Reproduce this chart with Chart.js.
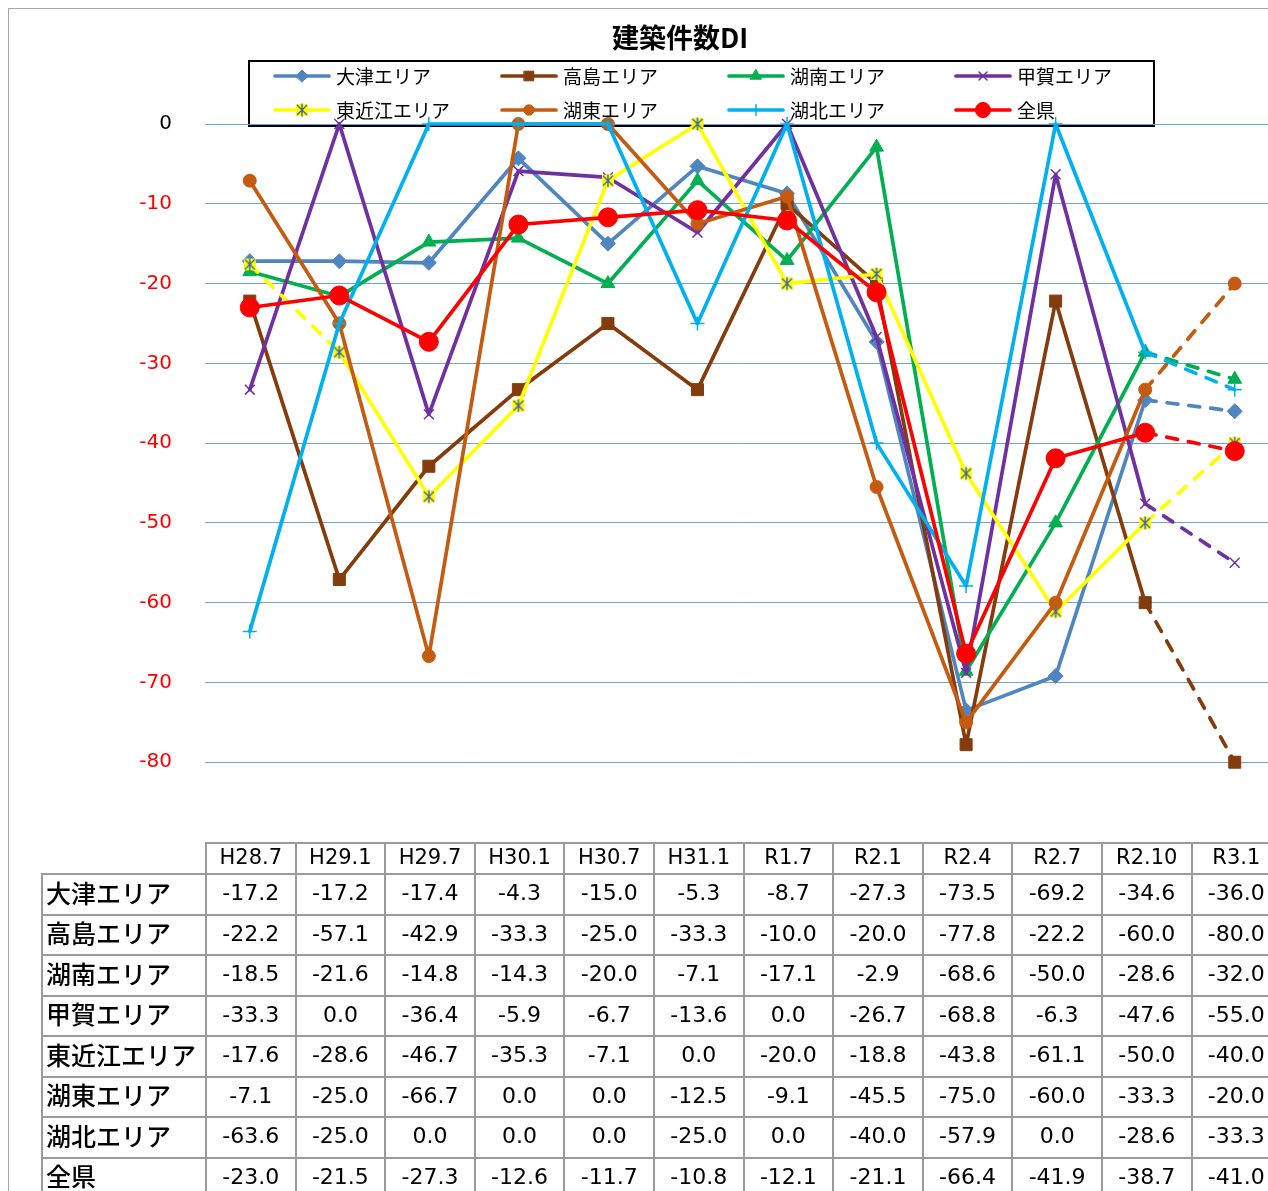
<!DOCTYPE html>
<html lang="ja">
<head>
<meta charset="UTF-8">
<title>建築件数DI</title>
<script src="https://cdn.jsdelivr.net/npm/chart.js@4.4.1/dist/chart.umd.min.js"></script>
<style>
  *{box-sizing:border-box}
  body{margin:0;width:1268px;height:1191px;overflow:hidden;background:#fff;position:relative;font-family:"DejaVu Sans","Noto Sans CJK JP",sans-serif}
  #frame{position:absolute;left:8px;top:8px;width:1320px;height:1300px;border:1px solid #a6a6a6}
  #chart{position:absolute;left:0;top:0}
  #dataTable{position:absolute;left:41px;top:842px;border-collapse:collapse;table-layout:fixed;width:1239.2px}
  #dataTable td{border:2px solid #9a9a9a;text-align:center;font-size:22px;padding:0 0 2px 0;line-height:1;white-space:nowrap;color:#000;overflow:hidden}
  #dataTable tr{height:40.5px}
  #dataTable tr.head{height:31px}
  #dataTable tr.head td{font-size:21px}
  #dataTable td.rowHead{text-align:left;padding:0 0 4px 3px;font-family:"Noto Sans CJK JP",sans-serif;font-size:25px;font-weight:500}
  #dataTable td.blank{border:none}
</style>
</head>
<body>
<div id="frame"></div>
<canvas id="chart" width="1290" height="887"></canvas>
<table id="dataTable"></table>

<script>
/****************  DATA  ****************/
const periods=['H28.7','H29.1','H29.7','H30.1','H30.7','H31.1','R1.7','R2.1','R2.4','R2.7','R2.10','R3.1'];
const otsu     =[-17.2,-17.2,-17.4, -4.3,-15.0, -5.3, -8.7,-27.3,-73.5,-69.2,-34.6,-36.0];
const takashima=[-22.2,-57.1,-42.9,-33.3,-25.0,-33.3,-10.0,-20.0,-77.8,-22.2,-60.0,-80.0];
const konan    =[-18.5,-21.6,-14.8,-14.3,-20.0, -7.1,-17.1, -2.9,-68.6,-50.0,-28.6,-32.0];
const koka     =[-33.3,  0.0,-36.4, -5.9, -6.7,-13.6,  0.0,-26.7,-68.8, -6.3,-47.6,-55.0];
const higashiOmi=[-17.6,-28.6,-46.7,-35.3, -7.1,  0.0,-20.0,-18.8,-43.8,-61.1,-50.0,-40.0];
const koto     =[ -7.1,-25.0,-66.7,  0.0,  0.0,-12.5, -9.1,-45.5,-75.0,-60.0,-33.3,-20.0];
const kohoku   =[-63.6,-25.0,  0.0,  0.0,  0.0,-25.0,  0.0,-40.0,-57.9,  0.0,-28.6,-33.3];
const zenken   =[-23.0,-21.5,-27.3,-12.6,-11.7,-10.8,-12.1,-21.1,-66.4,-41.9,-38.7,-41.0];

const seriesNames=['大津エリア','高島エリア','湖南エリア','甲賀エリア','東近江エリア','湖東エリア','湖北エリア','全県'];
const seriesData=[otsu,takashima,konan,koka,higashiOmi,koto,kohoku,zenken];
const yTicks=[0,-10,-20,-30,-40,-50,-60,-70,-80];

/****************  STYLES  ****************/
const colors=['#4f86c0','#843c0c','#00b050','#7030a0','#ffff00','#c55a11','#00b0f0','#ff0000'];

// yellow square with a blue asterisk (Excel "star" marker)
function starMarker(){
  const c=document.createElement('canvas');c.width=16;c.height=16;
  const g=c.getContext('2d');
  g.fillStyle='#ffff00';g.fillRect(2,2,12,12);
  g.strokeStyle='#3f64a8';g.lineWidth=1.4;
  g.beginPath();
  g.moveTo(3,3);g.lineTo(13,13);g.moveTo(13,3);g.lineTo(3,13);g.moveTo(8,1.5);g.lineTo(8,14.5);
  g.stroke();
  return c;
}
const markerStyles=['rectRot','rect','triangle','crossRot',starMarker(),'circle','cross','circle'];
const markerRadius=[7.5,8.5,8,7,8,6.5,7,9.5];
const markerBorder=[1,1,1,1.5,1,1,1.5,1];

/****************  CHART  ****************/
const datasets=seriesNames.map((name,i)=>({
  label:name,
  data:seriesData[i],
  borderColor:colors[i],
  backgroundColor:colors[i],
  pointBackgroundColor:colors[i],
  pointBorderColor:colors[i],
  borderWidth:3.7,
  pointStyle:markerStyles[i],
  pointRadius:markerRadius[i],
  pointBorderWidth:markerBorder[i],
  borderCapStyle:'round',
  borderJoinStyle:'round',
  tension:0,
  clip:false,
  order:seriesNames.length-i,
  segment:{borderDash:ctx=>(ctx.p0DataIndex===10||(i===4&&ctx.p0DataIndex===0))?[11,11]:undefined}
}));

// title + legend box, painted first so gridlines and lines sit on top
const boxes={
  id:'boxes',
  beforeDraw(chart){
    const ctx=chart.ctx;
    ctx.save();
    ctx.fillStyle='#000';
    ctx.font='bold 27px "Noto Sans CJK JP"';
    ctx.textAlign='center';ctx.textBaseline='middle';
    ctx.fillText('建築件数DI',680,38);

    ctx.fillStyle='#fff';ctx.fillRect(249,61,905,65);
    ctx.strokeStyle='#000';ctx.lineWidth=2;ctx.strokeRect(249,61,905,65);

    const colX=[275,502,729,956],rowY=[76,110];
    seriesNames.forEach((name,i)=>{
      const x=colX[i%4],y=rowY[Math.floor(i/4)];
      ctx.strokeStyle=colors[i];ctx.lineWidth=3.7;ctx.lineCap='round';ctx.setLineDash([]);
      ctx.beginPath();ctx.moveTo(x,y);ctx.lineTo(x+54,y);ctx.stroke();
      ctx.fillStyle=colors[i];ctx.lineWidth=markerBorder[i];
      Chart.helpers.drawPoint(ctx,{pointStyle:markerStyles[i],radius:markerRadius[i]*0.8,rotation:0,borderWidth:markerBorder[i]},x+27,y);
      ctx.fillStyle='#000';ctx.font='19px "Noto Sans CJK JP"';ctx.textAlign='left';ctx.textBaseline='middle';
      ctx.fillText(name,x+61,y+1);
    });
    ctx.restore();
  }
};

new Chart(document.getElementById('chart'),{
  type:'line',
  data:{labels:periods,datasets},
  plugins:[boxes],
  options:{
    responsive:false,animation:false,events:[],
    layout:{padding:{left:0,right:10,top:124,bottom:18}},
    plugins:{legend:{display:false},title:{display:false},tooltip:{enabled:false}},
    scales:{
      x:{type:'category',offset:true,display:false},
      y:{min:-90,max:0,
        afterBuildTicks:s=>{s.ticks=[-90,...yTicks].map(v=>({value:v}));},
        afterFit:s=>{s.width=205;},
        border:{display:false},
        grid:{drawTicks:false,lineWidth:1,color:c=>c.tick&&c.tick.value===-90?'rgba(0,0,0,0)':'#6fa2d8'},
        ticks:{padding:33,font:{family:'DejaVu Sans',size:20},
          color:c=>c.tick.value===0?'#000':'#ff0000',
          callback:v=>v===-90?'':String(v)}
      }
    }
  }
});

/****************  DATA TABLE  ****************/
const tbl=document.getElementById('dataTable');
let html='<colgroup><col style="width:164px">'+periods.map(()=>'<col style="width:89.6px">').join('')+'</colgroup>';
html+='<tr class="head"><td class="blank"></td>'+periods.map(p=>`<td>${p}</td>`).join('')+'</tr>';
seriesNames.forEach((name,i)=>{
  html+=`<tr><td class="rowHead">${name}</td>`+seriesData[i].map(v=>`<td>${v.toFixed(1)}</td>`).join('')+'</tr>';
});
tbl.innerHTML=html;
</script>
</body>
</html>
